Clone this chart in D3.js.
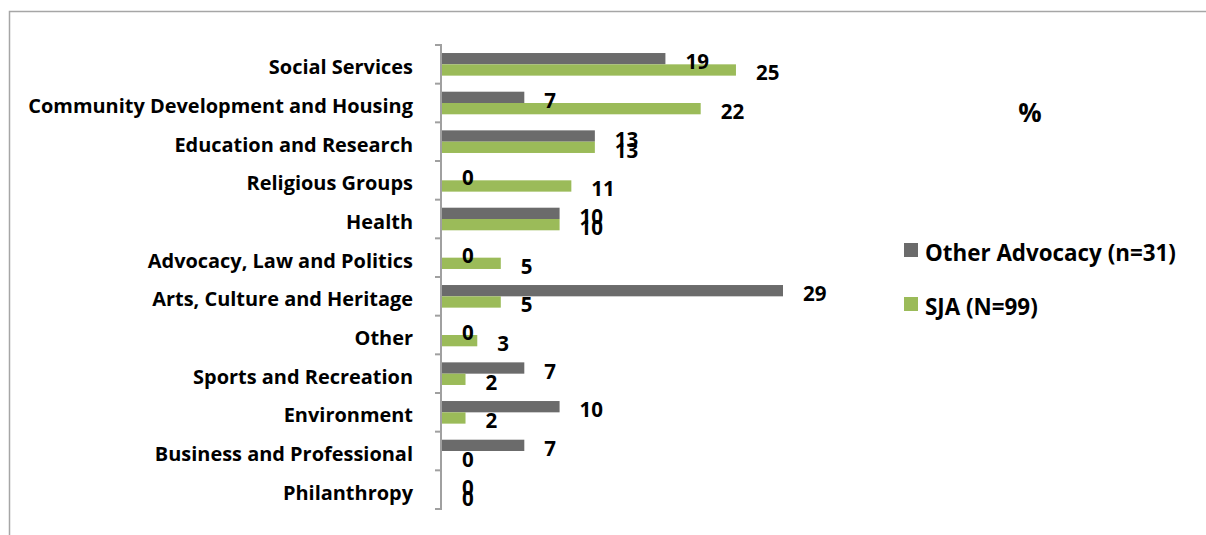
<!DOCTYPE html>
<html>
<head>
<meta charset="utf-8">
<script src="https://cdn.jsdelivr.net/npm/d3@7"></script>
<style>
  html, body { margin: 0; padding: 0; background: #fff; }
  svg { display: block; }
  text { font-family: "Open Sans", Lato, sans-serif; font-weight: bold; fill: #000; }
</style>
</head>
<body>
<svg id="chart" width="1206" height="535"></svg>
<script>
// Sectors of activity (top to bottom)
const categories = [
  "Social Services",
  "Community Development and Housing",
  "Education and Research",
  "Religious Groups",
  "Health",
  "Advocacy, Law and Politics ",
  "Arts, Culture and Heritage",
  "Other",
  "Sports and Recreation",
  "Environment",
  "Business and Professional",
  "Philanthropy"
];

// Percent of organisations in each group
const otherAdvocacy = [19, 7, 13, 0, 10, 0, 29, 0, 7, 10, 7, 0];
const sja           = [25, 22, 13, 11, 10, 5, 5, 3, 2, 2, 0, 0];

const seriesNames  = ["Other Advocacy (n=31)", "SJA (N=99)"];
const seriesColors = ["#6b6b6b", "#9bbb59"];
const unitLabel = "%";

const svg = d3.select("#chart");

// Pick a font size so that a sample string takes the given width
function fitSize(sample, width, base) {
  const t = svg.append("text").attr("font-size", base).text(sample);
  const w = t.node().getComputedTextLength();
  t.remove();
  return base * width / w;
}
const catSize = fitSize("Community Development and Housing", 385, 18);
const valSize = fitSize("25", 23.5, 18);
const legSize = fitSize("Other Advocacy (n=31)", 251, 18);

// Outer frame (clipped at right and bottom)
svg.append("path")
  .attr("d", "M9.5,535 V11.5 H1206")
  .attr("fill", "none")
  .attr("stroke", "#a6a6a6")
  .attr("stroke-width", 1.5);

const x0 = 442;
const x = d3.scaleLinear().domain([0, 29]).range([x0, x0 + 341]);
const y = d3.scaleBand().domain(categories).range([45, 509]).paddingInner(0).paddingOuter(0);
const ySub = d3.scaleBand().domain(seriesNames).range([0, y.bandwidth()]).paddingInner(0).paddingOuter(0.71);

const rows = categories.map((c, i) => ({ cat: c, vals: [otherAdvocacy[i], sja[i]] }));

const g = svg.append("g");

// Bars
const groups = g.selectAll("g.row").data(rows).join("g")
  .attr("class", "row")
  .attr("transform", d => `translate(0,${y(d.cat)})`);

groups.selectAll("rect").data(d => d.vals.map((v, k) => ({ v, k }))).join("rect")
  .attr("x", x(0))
  .attr("y", d => ySub(seriesNames[d.k]))
  .attr("width", d => x(d.v) - x(0))
  .attr("height", ySub.bandwidth())
  .attr("fill", d => seriesColors[d.k]);

// Value labels
groups.selectAll("text.val").data(d => d.vals.map((v, k) => ({ v, k }))).join("text")
  .attr("class", "val")
  .attr("x", d => x(d.v) + 20)
  .attr("y", d => ySub(seriesNames[d.k]) + ySub.bandwidth() / 2 + 2.5)
  .attr("dominant-baseline", "central")
  .attr("font-size", valSize)
  .text(d => d.v);

// Category axis: labels
const axis = svg.append("g")
  .attr("transform", `translate(441,0)`)
  .call(d3.axisLeft(y).tickSize(0).tickPadding(28));
axis.select(".domain").remove();
axis.selectAll("text")
  .attr("font-size", catSize)
  .attr("font-family", "'Open Sans', Lato, sans-serif")
  .attr("font-weight", "bold")
  .attr("fill", "#000")
  .attr("dy", "0.5em");

// Category axis: line and tick marks between categories
const bounds = categories.map(c => y(c)).concat([y.range()[1]]);
svg.append("line")
  .attr("x1", 441).attr("x2", 441)
  .attr("y1", bounds[0]).attr("y2", bounds[bounds.length - 1])
  .attr("stroke", "#a0a0a0").attr("stroke-width", 2);
svg.selectAll("line.tick").data(bounds).join("line")
  .attr("class", "tick")
  .attr("x1", 435).attr("x2", 442)
  .attr("y1", d => d).attr("y2", d => d)
  .attr("stroke", "#a0a0a0").attr("stroke-width", 2);

// Unit label
svg.append("text")
  .attr("x", 1030).attr("y", 112)
  .attr("text-anchor", "middle")
  .attr("dominant-baseline", "central")
  .attr("font-size", 26)
  .text(unitLabel);

// Legend
const legend = svg.selectAll("g.legend").data(seriesNames).join("g")
  .attr("class", "legend")
  .attr("transform", (d, i) => `translate(904,${250 + i * 54})`);
legend.append("rect")
  .attr("x", 0).attr("y", -7).attr("width", 14).attr("height", 14)
  .attr("fill", (d, i) => seriesColors[i]);
legend.append("text")
  .attr("x", 21).attr("y", 2)
  .attr("dominant-baseline", "central")
  .attr("font-size", legSize)
  .text(d => d);
</script>
</body>
</html>
